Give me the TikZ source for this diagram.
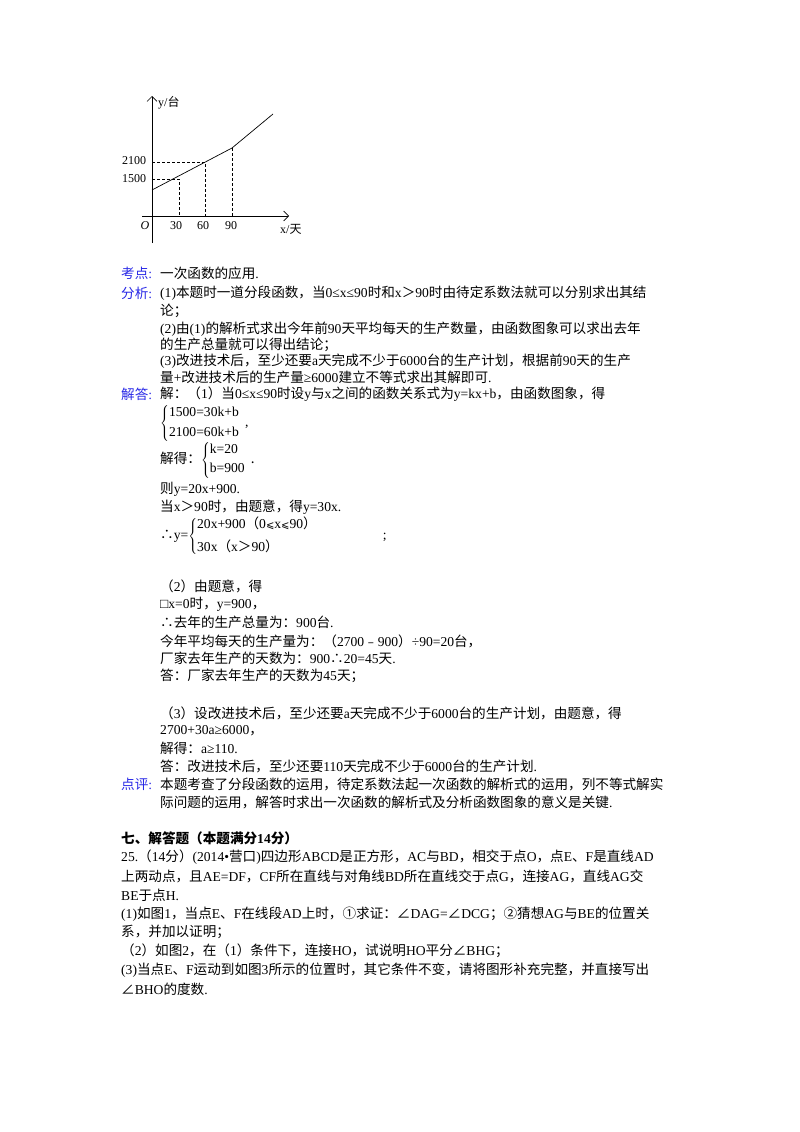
\documentclass[tikz,border=0pt]{standalone}
\usetikzlibrary{arrows.meta}
\usepackage{fontspec}
\setmainfont{Liberation Serif}
\newfontfamily\cjk{Noto Sans CJK SC}
\newfontfamily\latf{Liberation Serif}
\newfontfamily\djv{DejaVu Sans}
\XeTeXinterchartokenstate=1
\newXeTeXintercharclass\cjkclass
\newcount\cc
\cc="4E00 \loop\XeTeXcharclass\cc=\cjkclass \advance\cc 1 \ifnum\cc<"9FFF\repeat
\cc="3000 \loop\XeTeXcharclass\cc=\cjkclass \advance\cc 1 \ifnum\cc<"3040\repeat
\cc="FF00 \loop\XeTeXcharclass\cc=\cjkclass \advance\cc 1 \ifnum\cc<"FF60\repeat
\XeTeXinterchartoks 0 \cjkclass {\cjk}
\XeTeXinterchartoks 4095 \cjkclass {\cjk}
\XeTeXinterchartoks \cjkclass 0 {\latf}
\newcommand\sy[1]{{\cjk #1}\latf}
\newcommand\mb[1]{\mbox{\latf #1}}
\newcommand\leqs{{\djv\fontsize{10}{12}\selectfont ⩽}\latf}
\definecolor{lab}{RGB}{40,40,230}
\begin{document}
\begin{tikzpicture}[x=1pt,y=-1pt,
  t/.style={anchor=west,inner sep=0pt,font=\fontsize{13.6}{15}\selectfont},
  lb/.style={t,text=lab},
  ax/.style={-{Straight Barb[length=5pt]},line width=0.6pt},
  dl/.style={densely dashed,line width=0.5pt},
  g/.style={inner sep=0pt,font=\fontsize{12}{13}\selectfont}]
\useasboundingbox (0,0) rectangle (800,1132);
% graph
\coordinate (O) at (152,216);
\draw[ax] (152,243) -- (152,96);
\draw[ax] (142,216) -- (289,216);
\coordinate (p0) at (152,190);
\coordinate (p30) at (179,179);
\coordinate (p60) at (205,162);
\coordinate (p90) at (232,148);
\coordinate (pe) at (273,114);
\draw[line width=0.7pt] (p0) -- (p90) -- (pe);
\draw[dl] (152,179) -- (p30) -- (179,216);
\draw[dl] (152,162) -- (p60) -- (205,216);
\draw[dl] (232,148) -- (232,216);
\node[g] (n2100) at (134,161) {2100};
\node[g] (n1500) at (134,179) {1500};
\node[g,font=\fontsize{12}{13}\itshape] (lo) at (145,226) {O};
\node[g] (l30) at (176,226) {30};
\node[g] (l60) at (203,226) {60};
\node[g] (l90) at (231,226) {90};
\node[g,anchor=west] (ly) at (158,103) {y/台};
\node[g,anchor=west] (lx) at (280,229) {x/天};
% text
\node[lb] (k1) at (121,273) {考点:};
\node[t] at (160,273) {一次函数的应用.};
\node[lb] (k2) at (121,293) {分析:};
\node[t] at (160,293) {(1)本题时一道分段函数，当0≤x≤90时和x＞90时由待定系数法就可以分别求出其结};
\node[t] at (160,311) {论；};
\node[t] at (160,329) {(2)由(1)的解析式求出今年前90天平均每天的生产数量，由函数图象可以求出去年};
\node[t] at (160,345) {的生产总量就可以得出结论；};
\node[t] at (160,361) {(3)改进技术后，至少还要a天完成不少于6000台的生产计划，根据前90天的生产};
\node[t] at (160,377) {量+改进技术后的生产量≥6000建立不等式求出其解即可.};
\node[lb] (k3) at (121,394) {解答:};
\node[t] at (160,394) {解：（1）当0≤x≤90时设y与x之间的函数关系式为y=kx+b，由函数图象，得};
\node[t] at (160,423) {$\left\{\begin{array}{@{}l}\mb{1500=30k+b}\\[5pt]\mb{2100=60k+b}\end{array}\right.$,};
\node[t] at (160,460) {解得：$\left\{\begin{array}{@{}l}\mb{k=20}\\[4pt]\mb{b=900}\end{array}\right.$.};
\node[t] at (160,489) {则y=20x+900.};
\node[t] at (160,507) {当x＞90时，由题意，得y=30x.};
\node[t] at (160,536) {\sy{∴}y=$\left\{\begin{array}{@{}l}\mb{20x+900（0\leqs x\leqs 90）}\\[7pt]\mb{30x（x＞90）}\end{array}\right.$\hspace{60pt};};
\node[t] at (160,586) {（2）由题意，得};
\node[t] at (160,604) {□x=0时，y=900，};
\node[t] at (160,622) {\sy{∴}去年的生产总量为：900台.};
\node[t] at (160,641) {今年平均每天的生产量为：（2700\sy{﹣}900）÷90=20台，};
\node[t] at (160,658) {厂家去年生产的天数为：900\sy{∴}20=45天.};
\node[t] at (160,676) {答：厂家去年生产的天数为45天；};
\node[t] at (160,713) {（3）设改进技术后，至少还要a天完成不少于6000台的生产计划，由题意，得};
\node[t] at (160,731) {2700+30a≥6000，};
\node[t] at (160,748) {解得：a≥110.};
\node[t] at (160,766) {答：改进技术后，至少还要110天完成不少于6000台的生产计划.};
\node[lb] (k4) at (121,784) {点评:};
\node[t] at (160,784) {本题考查了分段函数的运用，待定系数法起一次函数的解析式的运用，列不等式解实};
\node[t] at (160,802) {际问题的运用，解答时求出一次函数的解析式及分析函数图象的意义是关键.};
\node[t,font=\fontsize{13.6}{15}\bfseries] at (121,838) {七、解答题（本题满分14分）};
\node[t] at (121,857) {25.（14分）(2014•营口)四边形ABCD是正方形，AC与BD，相交于点O，点E、F是直线AD};
\node[t] at (121,876) {上两动点，且AE=DF，CF所在直线与对角线BD所在直线交于点G，连接AG，直线AG交};
\node[t] at (121,895) {BE于点H.};
\node[t] at (121,914) {(1)如图1，当点E、F在线段AD上时，\sy{①}求证：\sy{∠}DAG=\sy{∠}DCG；\sy{②}猜想AG与BE的位置关};
\node[t] at (121,932) {系，并加以证明；};
\node[t] at (121,951) {（2）如图2，在（1）条件下，连接HO，试说明HO平分\sy{∠}BHG；};
\node[t] at (121,970) {(3)当点E、F运动到如图3所示的位置时，其它条件不变，请将图形补充完整，并直接写出};
\node[t] at (121,989) {\sy{∠}BHO的度数.};
\end{tikzpicture}
\end{document}
